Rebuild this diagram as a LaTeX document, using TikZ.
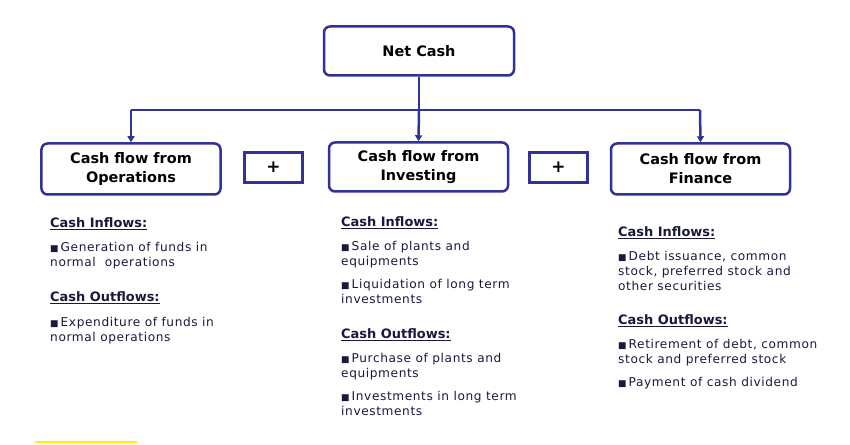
\documentclass[tikz,border=0pt]{standalone}
\usepackage{fontspec}
\setmainfont{DejaVu Sans}
\newfontfamily\spaced[LetterSpace=5]{DejaVu Sans}
\usetikzlibrary{arrows.meta}
\definecolor{bord}{RGB}{50,50,150}
\definecolor{txt}{RGB}{25,25,60}
\newcommand{\bul}{{\fontsize{9}{9}\selectfont ■}\,}
\tikzset{
 x=1bp,y=-1bp,
 hbox/.style={draw=bord,line width=2.5bp,rounded corners=6bp,fill=white,align=center,inner sep=0,font=\fontsize{14.5}{19}\selectfont\bfseries},
 plusbox/.style={draw=bord,line width=2.5bp,fill=white,inner sep=0,font=\fontsize{17}{17}\selectfont\bfseries},
 head/.style={anchor=base west,inner sep=0,text=txt,font=\fontsize{13}{14}\selectfont\bfseries},
 para/.style={anchor=north west,inner sep=0,text=txt,align=left,font=\spaced\fontsize{12.2}{15}\selectfont},
 conn/.style={draw=bord,line width=2.5bp},
 arr/.style={conn,-{Triangle[length=6bp,width=7bp]}}
}
\begin{document}
\begin{tikzpicture}
\useasboundingbox (0,0) rectangle (850,445);
\node[hbox,minimum width=190bp,minimum height=49bp] (net) at (419,51) {Net Cash};
\node[hbox,minimum width=179bp,minimum height=51bp] (ops) at (131,169) {Cash flow from\\Operations};
\node[hbox,minimum width=179bp,minimum height=49bp] (inv) at (418.5,167) {Cash flow from\\Investing};
\node[hbox,minimum width=179bp,minimum height=51bp] (fin) at (700.5,169) {Cash flow from\\Finance};
\node[plusbox,minimum width=58bp,minimum height=30bp] (p1) at (273.5,167.5) {+};
\node[plusbox,minimum width=58bp,minimum height=30bp] (p2) at (558.5,167.5) {+};
\coordinate (j) at (419,110);
\coordinate (jl) at (131,110);
\coordinate (jr) at (700,110);
\draw[conn] (net.south) -- (j);
\draw[conn] (jl) -- (jr);
\draw[arr] (jl) -- (ops.north);
\draw[arr] (j) -- (inv.north);
\draw[arr] (jr) -- (fin.north);
% Operations
\node[head] (oh1) at (50,228) {\underline{Cash Inflows:}};
\node[para] (op1) at (50,242) {\bul Generation of funds in\\normal\ \ operations};
\node[head] (oh2) at (50,302) {\underline{Cash Outflows:}};
\node[para] (op2) at (50,317) {\bul Expenditure of funds in\\normal operations};
% Investing
\node[head] (ih1) at (341,227) {\underline{Cash Inflows:}};
\node[para] (ip1) at (341,241) {\bul Sale of plants and\\equipments};
\node[para] (ip2) at (341,279) {\bul Liquidation of long term\\investments};
\node[head] (ih2) at (341,339) {\underline{Cash Outflows:}};
\node[para] (ip3) at (341,353) {\bul Purchase of plants and\\equipments};
\node[para] (ip4) at (341,391) {\bul Investments in long term\\investments};
% Finance
\node[head] (fh1) at (618,237) {\underline{Cash Inflows:}};
\node[para] (fp1) at (618,251) {\bul Debt issuance, common\\stock, preferred stock and\\other securities};
\node[head] (fh2) at (618,325) {\underline{Cash Outflows:}};
\node[para] (fp2) at (618,339) {\bul Retirement of debt, common\\stock and preferred stock};
\node[para] (fp3) at (618,377) {\bul Payment of cash dividend};
\fill[yellow] (35,441) rectangle (137,443);
\end{tikzpicture}
\end{document}
